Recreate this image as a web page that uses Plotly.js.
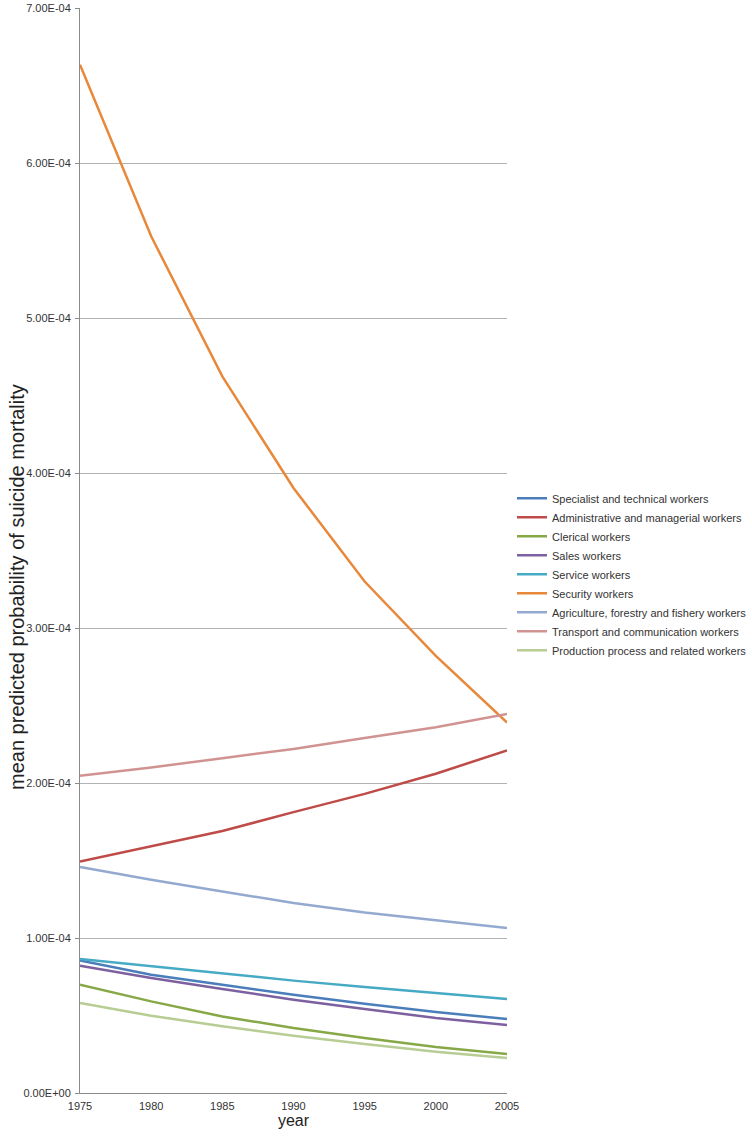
<!DOCTYPE html>
<html>
<head>
<meta charset="utf-8">
<script src="https://cdn.plot.ly/plotly-3.0.1.min.js"></script>
<style>html,body{margin:0;padding:0;background:#fff}#chart{width:752px;height:1139px}</style>
</head>
<body>
<div id="chart"></div>
<script>
var years = [1975, 1980, 1985, 1990, 1995, 2000, 2005];

var seriesNames = [
  "Specialist and technical workers",
  "Administrative and managerial workers",
  "Clerical workers",
  "Sales workers",
  "Service workers",
  "Security workers",
  "Agriculture, forestry and fishery workers",
  "Transport and communication workers",
  "Production process and related workers"
];

var specialist     = [0.855e-4, 0.763e-4, 0.699e-4, 0.634e-4, 0.576e-4, 0.523e-4, 0.477e-4];
var administrative = [1.494e-4, 1.590e-4, 1.690e-4, 1.812e-4, 1.930e-4, 2.060e-4, 2.210e-4];
var clerical       = [0.699e-4, 0.591e-4, 0.494e-4, 0.419e-4, 0.355e-4, 0.297e-4, 0.252e-4];
var sales          = [0.821e-4, 0.742e-4, 0.671e-4, 0.602e-4, 0.542e-4, 0.484e-4, 0.439e-4];
var service        = [0.865e-4, 0.817e-4, 0.770e-4, 0.725e-4, 0.684e-4, 0.643e-4, 0.606e-4];
var security       = [6.634e-4, 5.527e-4, 4.623e-4, 3.903e-4, 3.300e-4, 2.820e-4, 2.390e-4];
var agriculture    = [1.458e-4, 1.376e-4, 1.300e-4, 1.226e-4, 1.165e-4, 1.114e-4, 1.065e-4];
var transport      = [2.047e-4, 2.100e-4, 2.160e-4, 2.220e-4, 2.290e-4, 2.360e-4, 2.445e-4];
var production     = [0.581e-4, 0.499e-4, 0.430e-4, 0.370e-4, 0.316e-4, 0.266e-4, 0.226e-4];

var seriesValues = [specialist, administrative, clerical, sales, service, security, agriculture, transport, production];
var seriesColors = ["#4A7EBB", "#BE4B48", "#86A846", "#7D60A0", "#46AAC5", "#E8883A", "#94A9D0", "#D19392", "#B7CD93"];

var yTickVals = [0, 1e-4, 2e-4, 3e-4, 4e-4, 5e-4, 6e-4, 7e-4];
var yTickText = ["0.00E+00", "1.00E-04", "2.00E-04", "3.00E-04", "4.00E-04", "5.00E-04", "6.00E-04", "7.00E-04"];
var xTickVals = [1975, 1980, 1985, 1990, 1995, 2000, 2005];

var traces = seriesNames.map(function (name, i) {
  return {
    x: years,
    y: seriesValues[i],
    name: name,
    type: "scatter",
    mode: "lines",
    line: {color: seriesColors[i], width: 2.5}
  };
});

var layout = {
  width: 752,
  height: 1139,
  paper_bgcolor: "#ffffff",
  plot_bgcolor: "#ffffff",
  font: {family: "Liberation Sans, Arial, sans-serif", color: "#333333"},
  margin: {l: 79.5, r: 245, t: 8, b: 46, pad: 0, autoexpand: false},
  showlegend: true,
  legend: {
    x: 1.0117, xanchor: "left",
    y: 0.5615, yanchor: "top",
    font: {size: 11, color: "#333333"},
    bgcolor: "rgba(0,0,0,0)",
    itemwidth: 30,
    tracegroupgap: 0
  },
  xaxis: {
    range: [1975, 2005],
    tickvals: xTickVals,
    ticktext: xTickVals.map(String),
    showgrid: false,
    zeroline: false,
    showline: true,
    linecolor: "#8c8c8c",
    linewidth: 1,
    ticks: "outside",
    ticklen: 3,
    tickcolor: "rgba(0,0,0,0)",
    tickfont: {size: 11, color: "#333333"},
    title: {text: "year", font: {size: 16, color: "#222222"}, standoff: 3}
  },
  yaxis: {
    range: [0, 7e-4],
    tickvals: yTickVals,
    ticktext: yTickText,
    showgrid: true,
    gridcolor: "#b3b3b3",
    gridwidth: 1,
    zeroline: false,
    showline: true,
    linecolor: "#8c8c8c",
    linewidth: 1,
    ticks: "outside",
    ticklen: 4,
    tickcolor: "#8c8c8c",
    ticklabelstandoff: 2,
    tickfont: {size: 11, color: "#333333"}
  },
  annotations: [{
    text: "mean predicted probability of suicide mortality",
    xref: "paper", yref: "paper",
    x: (17 - 79.5) / 427.5, y: 0.466,
    xanchor: "center", yanchor: "middle",
    textangle: -90,
    showarrow: false,
    font: {size: 20, color: "#222222"}
  }]
};

Plotly.newPlot("chart", traces, layout, {displayModeBar: false, staticPlot: true});
</script>
</body>
</html>
